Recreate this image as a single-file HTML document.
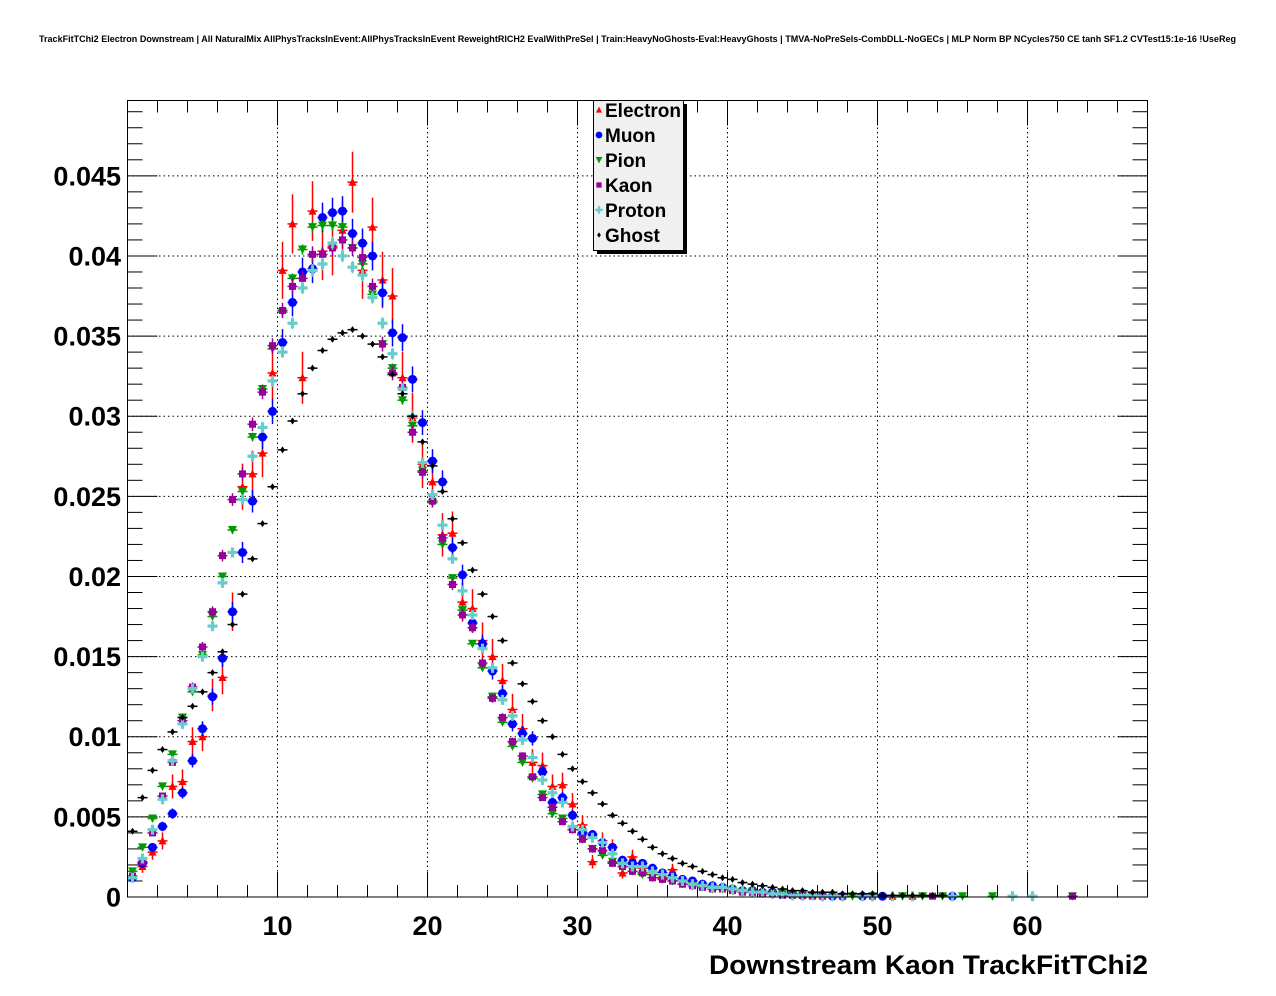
<!DOCTYPE html>
<html><head><meta charset="utf-8">
<style>
html,body{margin:0;padding:0;background:#fff;}
svg{display:block;font-family:"Liberation Sans",Arial,sans-serif;}
</style></head>
<body>
<svg id="chart" width="1276" height="996" viewBox="0 0 1276 996" xmlns="http://www.w3.org/2000/svg">
<rect x="0" y="0" width="1276" height="996" fill="#fff"/>
<text x="39" y="42" font-size="9" font-weight="bold" textLength="1197" lengthAdjust="spacingAndGlyphs">TrackFitTChi2 Electron Downstream | All NaturalMix AllPhysTracksInEvent:AllPhysTracksInEvent ReweightRICH2 EvalWithPreSel | Train:HeavyNoGhosts-Eval:HeavyGhosts | TMVA-NoPreSels-CombDLL-NoGECs | MLP Norm BP NCycles750 CE tanh SF1.2 CVTest15:1e-16 !UseReg</text>
<g id="grid"></g>
<g id="ticks"></g>
<g id="marks"></g>
<rect x="127.5" y="100.5" width="1020" height="796.5" fill="none" stroke="#000" stroke-width="1"/>
<text x="1148" y="974" font-size="27" font-weight="bold" text-anchor="end" textLength="439" lengthAdjust="spacingAndGlyphs">Downstream Kaon TrackFitTChi2</text>
<g id="legend">
<rect x="597" y="104" width="90" height="150" fill="#000"/>
<rect x="593.5" y="100.5" width="90" height="150" fill="#f0f0f0" stroke="#000" stroke-width="1"/>
</g>
</svg>
<script>
const binWidth = 2/3;
const xMin = 0, xMax = 68, yMin = 0, yMax = 0.0497;
const xTicks = [10, 20, 30, 40, 50, 60];
const yTicks = [0, 0.005, 0.01, 0.015, 0.02, 0.025, 0.03, 0.035, 0.04, 0.045];
const yTickLabels = ["0", "0.005", "0.01", "0.015", "0.02", "0.025", "0.03", "0.035", "0.04", "0.045"];
const seriesNames = ["Electron", "Muon", "Pion", "Kaon", "Proton", "Ghost"];
const electron = [.0013,.0019,.0028,.0035,.0069,.0072,.0097,.0100,.0126,.0137,.0178,.0256,.0264,.0277,.0327,.0391,.0420,.0324,.0428,.0403,.0406,.0416,.0446,.0391,.0418,.0385,.0375,.0324,.0299,.0270,.0259,.0226,.0227,.0184,.0180,.0160,.0150,.0135,.0117,.0105,.0084,.0082,.0069,.0070,.0058,.0045,.0022,.0035,.0031,.0015,.0025,.0018,.0014,.0012,.0017,.0010,.0008,.0007,.0006,.0006,.0005,.0004,.0003,.0003,.0002,.0002,.0002,.0001,.0001,.0001,.0001,0,0,.0001,0,0,.00005,0,.00005];
const muon = [.0012,.0021,.0031,.0044,.0052,.0065,.0085,.0105,.0125,.0149,.0178,.0215,.0247,.0287,.0303,.0346,.0371,.0390,.0392,.0424,.0427,.0428,.0414,.0408,.0400,.0377,.0352,.0349,.0323,.0296,.0272,.0259,.0218,.0201,.0171,.0158,.0141,.0127,.0108,.0102,.0099,.0078,.0059,.0062,.0051,.0040,.0039,.0034,.0031,.0023,.0021,.0021,.0018,.0015,.0013,.0011,.0010,.0008,.0007,.0006,.0005,.0004,.0004,.0003,.0003,.0002,.0002,.0001,.0001,.0001,.00005,.00005,0,.00005,0,.00005,0,0,0,0,0,0,.00005];
const pion = [.0016,.0031,.0049,.0069,.0089,.0112,.0128,.0151,.0175,.0200,.0229,.0253,.0287,.0317,.0342,.0365,.0386,.0404,.0418,.0419,.0419,.0418,.0405,.0395,.0376,.0345,.0330,.0310,.0294,.0266,.0246,.0220,.0199,.0179,.0158,.0143,.0125,.0109,.0094,.0084,.0074,.0064,.0052,.0049,.0042,.0036,.0030,.0026,.0022,.0019,.0016,.0014,.0012,.0011,.0010,.0008,.0007,.0006,.0005,.0005,.0004,.0003,.0003,.0002,.0002,.0002,.0001,.0001,.0001,.00005,.00005,0,.00005,0,.00005,0,0,.00005,0,.00005,0,.00005,0,.00005,0,0,.00005,0,0,0,0,0,0,0,.00005];
const kaon = [.0013,.0022,.0040,.0063,.0084,.0110,.0131,.0156,.0178,.0213,.0248,.0264,.0295,.0315,.0344,.0366,.0381,.0386,.0401,.0401,.0405,.0410,.0405,.0399,.0381,.0345,.0327,.0318,.0290,.0265,.0247,.0224,.0195,.0176,.0168,.0146,.0124,.0112,.0097,.0088,.0075,.0062,.0056,.0047,.0042,.0036,.0030,.0029,.0021,.0019,.0016,.0015,.0012,.0011,.0010,.0008,.0007,.0006,.0005,.0005,.0004,.0003,.0003,.0002,.0002,.0001,.0001,.0001,.00005,.00005,0,.00005,0,0,.00005,0,0,0,0,0,.00005,0,0,0,0,0,0,0,0,0,0,0,0,0,.00005];
const proton = [.0012,.0024,.0042,.0061,.0085,.0108,.0130,.0150,.0169,.0196,.0215,.0248,.0275,.0293,.0322,.0340,.0358,.0380,.0391,.0395,.0408,.0400,.0393,.0388,.0374,.0358,.0339,.0317,.0300,.0271,.0251,.0232,.0211,.0191,.0176,.0155,.0143,.0123,.0113,.0098,.0087,.0073,.0065,.0059,.0044,.0042,.0037,.0034,.0027,.0021,.0019,.0019,.0016,.0014,.0012,.0010,.0008,.0007,.0006,.0006,.0005,.0004,.0003,.0003,.0002,.0002,.0001,.0001,.0001,.00005,.00005,.00005,0,.00005,.00005,0,.00005,0,.00005,0,0,0,.00005,0,0,0,0,0,.00005,0,.00005];
const ghost = [.0041,.0062,.0079,.0092,.0103,.0112,.0119,.0128,.0140,.0153,.0170,.0189,.0211,.0233,.0256,.0279,.0297,.0314,.0330,.0341,.0348,.0352,.0354,.0350,.0345,.0337,.0326,.0314,.0300,.0284,.0269,.0253,.0236,.0221,.0204,.0189,.0175,.0160,.0146,.0133,.0122,.0110,.0100,.0089,.0080,.0072,.0065,.0058,.0051,.0046,.0041,.0036,.0031,.0027,.0024,.0021,.0019,.0016,.0014,.0012,.0011,.0009,.0008,.0007,.0006,.0005,.0004,.0004,.0003,.0003,.0003,.0002,.0002,.0002,.0002,.0001,.0001,.0001,.0001,.0001,.0001,.0001];

const L = 127.5, R = 1147.5, T = 100.5, B = 897;
function xs(v){ return L + (v - xMin) / (xMax - xMin) * (R - L); }
function ys(v){ return B - (v - yMin) / (yMax - yMin) * (B - T); }
const NS = "http://www.w3.org/2000/svg";
function mk(tag, attrs, parent){ const e = document.createElementNS(NS, tag); for (const k in attrs) e.setAttribute(k, attrs[k]); parent.appendChild(e); return e; }

const grid = document.getElementById('grid');
const ticks = document.getElementById('ticks');
xTicks.forEach((t) => {
  const x = xs(t);
  const g = mk('line', {x1:x, x2:x, y1:T, y2:B, stroke:'#000', 'stroke-width':1, 'stroke-dasharray':'1.5,3'}, grid);
  
  
  const lab = mk('text', {x:x, y:935, 'font-size':27, 'font-weight':'bold', 'text-anchor':'middle'}, ticks);
  lab.textContent = String(t);
  
  
});
yTicks.forEach((t, i) => {
  const y = ys(t);
  if (i > 0) {
    const g = mk('line', {x1:L, x2:R, y1:y, y2:y, stroke:'#000', 'stroke-width':1, 'stroke-dasharray':'1.5,3'}, grid);
    
    
  }
  const lab = mk('text', {x:121, y:y + 9.5, 'font-size':27, 'font-weight':'bold', 'text-anchor':'end'}, ticks);
  lab.textContent = yTickLabels[i];
  
  
});
for (let v = 2; v < xMax; v += 2) {
  const x = xs(v), len = (v % 10 === 0) ? 25 : 12;
  const a = mk('line', {x1:x, x2:x, y1:B, y2:B - len, stroke:'#000', 'stroke-width':1}, ticks);
  
  
  const b = mk('line', {x1:x, x2:x, y1:T, y2:T + len, stroke:'#000', 'stroke-width':1}, ticks);
  
  
}
for (let i = 1; i <= 49; i++) {
  const v = i * 0.001; if (v > yMax) break;
  const y = ys(v), len = (i % 5 === 0) ? 30 : 15;
  const a = mk('line', {x1:L, x2:L + len, y1:y, y2:y, stroke:'#000', 'stroke-width':1}, ticks);
  
  
  const b = mk('line', {x1:R, x2:R - len, y1:y, y2:y, stroke:'#000', 'stroke-width':1}, ticks);
  
  
}

const styles = [
  {color:'#ff0000', shape:'tri-up', errC:0.009},
  {color:'#0000ff', shape:'circle', errC:0.0045},
  {color:'#009900', shape:'tri-down', errC:0.0016},
  {color:'#990099', shape:'square', errC:0.0025},
  {color:'#66cccc', shape:'cross', errC:0.002},
  {color:'#000000', shape:'diamond', errC:0.0004}
];
function marker(shape, cx, cy, color, parent, s){
  s = s || 1;
  let e;
  if (shape === 'tri-up') e = mk('polygon', {points:`${cx-4*s},${cy+3.5*s} ${cx+4*s},${cy+3.5*s} ${cx},${cy-4.5*s}`, fill:color}, parent);
  else if (shape === 'tri-down') e = mk('polygon', {points:`${cx-4.5*s},${cy-4*s} ${cx+4.5*s},${cy-4*s} ${cx},${cy+4.5*s}`, fill:color}, parent);
  else if (shape === 'circle') e = mk('circle', {cx:cx, cy:cy, r:4.5*s, fill:color}, parent);
  else if (shape === 'square') e = mk('rect', {x:cx-3.5*s, y:cy-3.5*s, width:7*s, height:7*s, fill:color}, parent);
  else if (shape === 'cross') e = mk('path', {d:`M${cx-5*s},${cy-1.6*s}h${3.4*s}v${-3.4*s}h${3.2*s}v${3.4*s}h${3.4*s}v${3.2*s}h${-3.4*s}v${3.4*s}h${-3.2*s}v${-3.4*s}h${-3.4*s}z`, fill:color}, parent);
  else e = mk('polygon', {points:`${cx},${cy-3.5*s} ${cx+2.5*s},${cy} ${cx},${cy+3.5*s} ${cx-2.5*s},${cy}`, fill:color}, parent);
  return e;
}
const allSeries = [electron, muon, pion, kaon, proton, ghost];
const marks = document.getElementById('marks');
allSeries.forEach((vals, si) => {
  const st = styles[si];
  const g = mk('g', {}, marks);
  
  
  vals.forEach((v, k) => {
    if (v <= 0) return;
    const xc = xs(xMin + (k + 0.5) * binWidth);
    const x0 = xs(xMin + k * binWidth), x1 = xs(xMin + (k + 1) * binWidth);
    const err = st.errC * Math.sqrt(v);
    const yc = ys(v);
    const h = mk('line', {x1:x0, x2:x1, y1:yc, y2:yc, stroke:st.color, 'stroke-width':1.5}, g);
    
    
    const vl = mk('line', {x1:xc, x2:xc, y1:ys(v + err), y2:Math.min(B, ys(v - err)), stroke:st.color, 'stroke-width':1.5}, g);
    
    
    const m = marker(st.shape, xc, yc, st.color, g);
    
    
  });
});

const legend = document.getElementById('legend');
seriesNames.forEach((n, i) => {
  const y = 110 + i * 25;
  const m = marker(styles[i].shape, 599, y, styles[i].color, legend, 0.75);
  
  
  const t = mk('text', {x:605, y:y + 7, 'font-size':19, 'font-weight':'bold'}, legend);
  t.textContent = n;
  
  
});
</script>
</body></html>
